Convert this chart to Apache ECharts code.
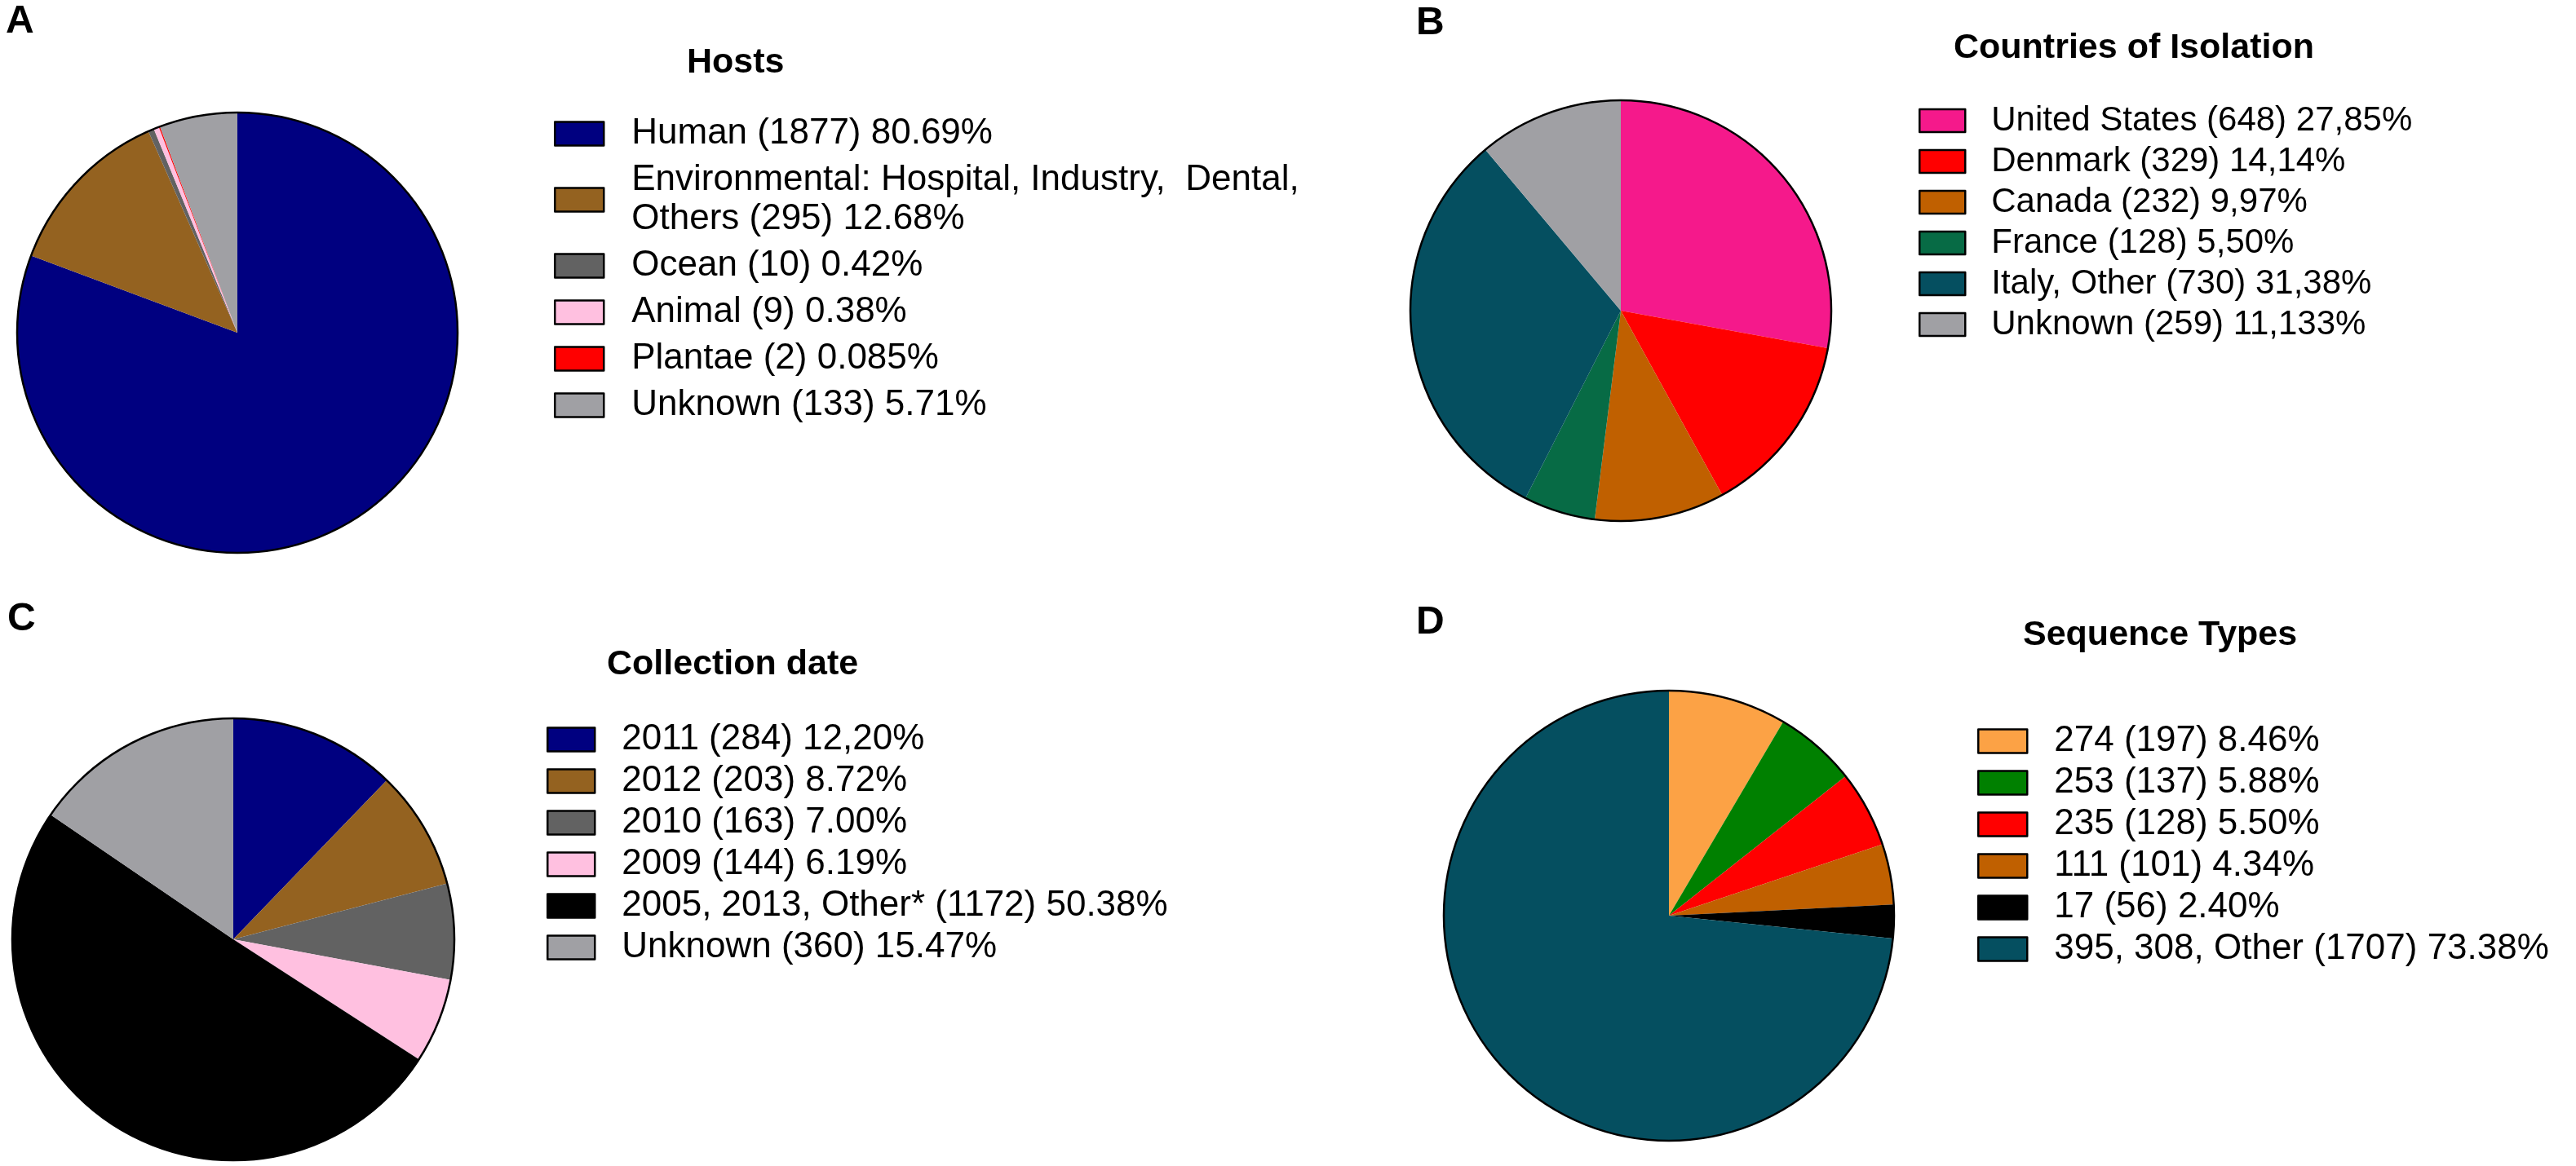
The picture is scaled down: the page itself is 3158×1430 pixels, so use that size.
<!DOCTYPE html>
<html>
<head>
<meta charset="utf-8">
<script src="https://cdn.jsdelivr.net/npm/echarts@6/dist/echarts.min.js"></script>
<style>
  html, body { margin: 0; padding: 0; background: #fff; }
  #chart { width: 3158px; height: 1430px; }
</style>
</head>
<body>
<div id="chart"></div>
<script>
// panel A - hosts
const hostNames = ["Human", "Environmental: Hospital, Industry,  Dental,\nOthers", "Ocean", "Animal", "Plantae", "Unknown"];
const hostCounts = [1877, 295, 10, 9, 2, 133];
const hostPct = ["80.69%", "12.68%", "0.42%", "0.38%", "0.085%", "5.71%"];

// panel B - countries
const countryNames = ["United States", "Denmark", "Canada", "France", "Italy, Other", "Unknown"];
const countryCounts = [648, 329, 232, 128, 730, 259];
const countryPct = ["27,85%", "14,14%", "9,97%", "5,50%", "31,38%", "11,133%"];

// panel C - collection date
const dateNames = ["2011", "2012", "2010", "2009", "2005, 2013, Other*", "Unknown"];
const dateCounts = [284, 203, 163, 144, 1172, 360];
const datePct = ["12,20%", "8.72%", "7.00%", "6.19%", "50.38%", "15.47%"];

// panel D - sequence types
const stNames = ["274", "253", "235", "111", "17", "395, 308, Other"];
const stCounts = [197, 137, 128, 101, 56, 1707];
const stPct = ["8.46%", "5.88%", "5.50%", "4.34%", "2.40%", "73.38%"];

const hostColors = ["#000080", "#946220", "#626262", "#ffc0e0", "#ff0000", "#a0a0a4"];
const countryColors = ["#f5198b", "#ff0000", "#c06000", "#076b45", "#054f60", "#a0a0a4"];
const dateColors = ["#000080", "#946220", "#626262", "#ffc0e0", "#000000", "#a0a0a4"];
const stColors = ["#fca245", "#008000", "#ff0000", "#c06000", "#000000", "#054f60"];

const FONT = "'Liberation Sans', Arial, sans-serif";

const panels = [
  { letter: "A", title: "Hosts", names: hostNames, counts: hostCounts, pct: hostPct, colors: hostColors,
    center: [291, 408], r: 270, letterPos: [7, 3], titlePos: [842, 56],
    leg: { left: 679, top: 140, w: 60, h: 29, fs: 44, lh: 48, gap: 9, pad: 29 } },
  { letter: "B", title: "Countries of Isolation", names: countryNames, counts: countryCounts, pct: countryPct, colors: countryColors,
    center: [1987, 381], r: 258, letterPos: [1736, 5], titlePos: [2395, 38],
    leg: { left: 2352, top: 127, w: 56, h: 28, fs: 42, lh: 42, gap: 8, pad: 27 } },
  { letter: "C", title: "Collection date", names: dateNames, counts: dateCounts, pct: datePct, colors: dateColors,
    center: [286, 1152], r: 271, letterPos: [9, 736], titlePos: [744, 794],
    leg: { left: 670, top: 885, w: 58, h: 29, fs: 44, lh: 44, gap: 7, pad: 28 } },
  { letter: "D", title: "Sequence Types", names: stNames, counts: stCounts, pct: stPct, colors: stColors,
    center: [2046, 1123], r: 276, letterPos: [1736, 740], titlePos: [2480, 758],
    leg: { left: 2424, top: 887, w: 60, h: 29, fs: 44, lh: 44, gap: 7, pad: 28 } }
];

const titles = [];
const legends = [];
const series = [];

panels.forEach((p, i) => {
  const labels = p.names.map((n, j) => n + " (" + p.counts[j] + ") " + p.pct[j]);

  titles.push({
    text: p.letter, left: p.letterPos[0], top: p.letterPos[1], padding: 0,
    textStyle: { fontFamily: FONT, fontSize: 48, fontWeight: "bold", color: "#000" }
  });
  titles.push({
    text: p.title, left: p.titlePos[0], top: p.titlePos[1], padding: 0,
    textStyle: { fontFamily: FONT, fontSize: 43, fontWeight: "bold", color: "#000" }
  });

  legends.push({
    orient: "vertical",
    left: p.leg.left,
    top: p.leg.top,
    padding: 0,
    itemGap: p.leg.gap,
    itemWidth: p.leg.w,
    itemHeight: p.leg.h,
    icon: "rect",
    selectedMode: false,
    data: labels,
    itemStyle: { borderColor: "#000", borderWidth: 2.5 },
    textStyle: { fontFamily: FONT, fontSize: p.leg.fs, lineHeight: p.leg.lh, color: "#000", padding: [0, 0, 0, p.leg.pad] }
  });

  series.push({
    type: "pie",
    name: "pie" + i,
    center: p.center,
    radius: [0, p.r],
    startAngle: 90,
    clockwise: true,
    silent: true,
    label: { show: false },
    labelLine: { show: false },
    itemStyle: { borderWidth: 0 },
    data: labels.map((l, j) => ({ name: l, value: p.counts[j], itemStyle: { color: p.colors[j] } }))
  });

  // outer black ring of the pie
  series.push({
    type: "pie",
    name: "ring" + i,
    center: p.center,
    radius: [0, p.r],
    silent: true,
    z: 3,
    label: { show: false },
    labelLine: { show: false },
    itemStyle: { color: "rgba(0,0,0,0)", borderColor: "#000", borderWidth: 2.5 },
    data: [{ name: "ring" + i, value: 1 }]
  });
});

const chart = echarts.init(document.getElementById("chart"));
chart.setOption({
  animation: false,
  backgroundColor: "#fff",
  title: titles,
  legend: legends,
  series: series
});
</script>
</body>
</html>
